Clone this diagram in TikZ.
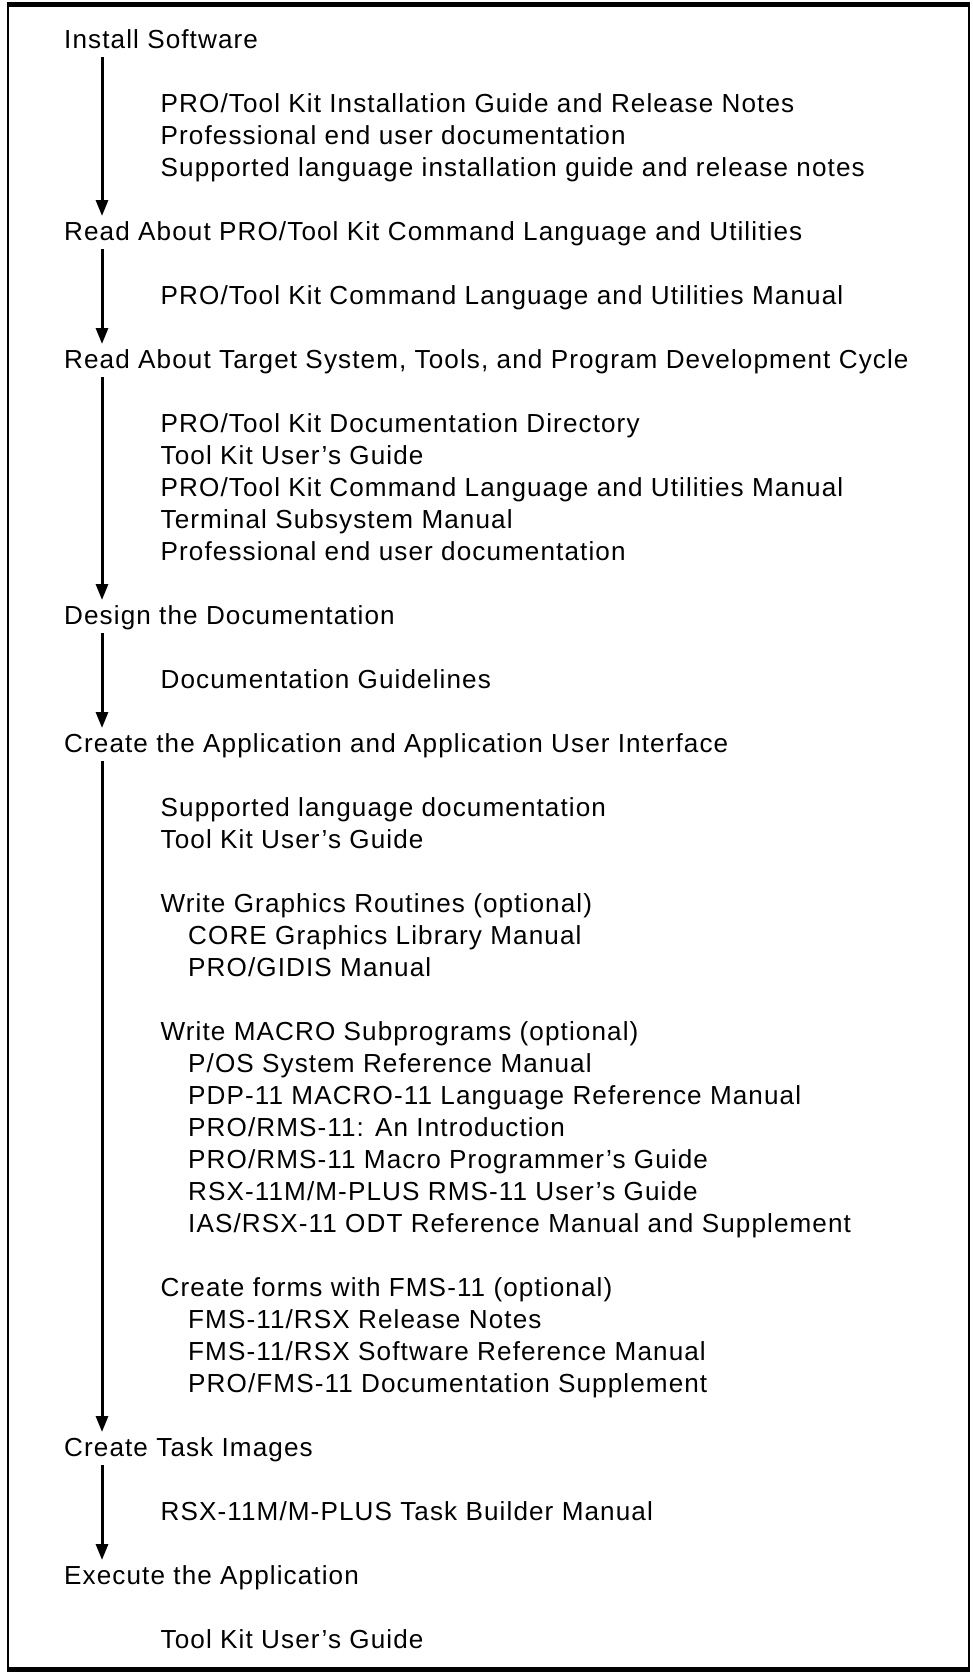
\documentclass[tikz,border=0pt]{standalone}
\usepackage{fontspec}
\setmainfont{Liberation Sans}[LetterSpace=4.2]
\usetikzlibrary{arrows.meta,calc}
\tikzset{
  head/.style={anchor=base west, inner sep=0pt, font=\fontsize{26.1}{32}\selectfont},
  item/.style={head},
  sub/.style={head},
  flow/.style={line width=3pt, -{Triangle[width=12pt,length=16pt]}},
  framethin/.style={line width=2pt},
  framethick/.style={line width=5pt}
}
\begin{document}
\begin{tikzpicture}[x=1pt,y=-1pt]
\useasboundingbox (0,0) rectangle (973,1676);
% frame
\coordinate (tl) at (8,4);
\coordinate (tr) at (969,4);
\coordinate (bl) at (8,1669);
\coordinate (br) at (969,1669);
\draw[framethick] ($(tl)+(-1,0)$) -- ($(tr)+(1,0)$);
\draw[framethick] ($(bl)+(-1,0)$) -- ($(br)+(1,0)$);
\draw[framethin] (tl) -- (bl);
\draw[framethin] (tr) -- (br);
% headings
\node[head] (h1) at (64,{48+32*0})  {Install Software};
\node[head] (h2) at (64,{48+32*6})  {Read About PRO/Tool Kit Command Language and Utilities};
\node[head] (h3) at (64,{48+32*10}) {Read About Target System, Tools, and Program Development Cycle};
\node[head] (h4) at (64,{48+32*18}) {Design the Documentation};
\node[head] (h5) at (64,{48+32*22}) {Create the Application and Application User Interface};
\node[head] (h6) at (64,{48+32*44}) {Create Task Images};
\node[head] (h7) at (64,{48+32*48}) {Execute the Application};
% items
\node[item] (a1) at (160.5,{48+32*2}) {PRO/Tool Kit Installation Guide and Release Notes};
\node[item] (a2) at (160.5,{48+32*3}) {Professional end user documentation};
\node[item] (a3) at (160.5,{48+32*4}) {Supported language installation guide and release notes};
\node[item] (b1) at (160.5,{48+32*8}) {PRO/Tool Kit Command Language and Utilities Manual};
\node[item] (c1) at (160.5,{48+32*12}) {PRO/Tool Kit Documentation Directory};
\node[item] (c2) at (160.5,{48+32*13}) {Tool Kit User’s Guide};
\node[item] (c3) at (160.5,{48+32*14}) {PRO/Tool Kit Command Language and Utilities Manual};
\node[item] (c4) at (160.5,{48+32*15}) {Terminal Subsystem Manual};
\node[item] (c5) at (160.5,{48+32*16}) {Professional end user documentation};
\node[item] (d1) at (160.5,{48+32*20}) {Documentation Guidelines};
\node[item] (e1) at (160.5,{48+32*24}) {Supported language documentation};
\node[item] (e2) at (160.5,{48+32*25}) {Tool Kit User’s Guide};
\node[item] (e3) at (160.5,{48+32*27}) {Write Graphics Routines (optional)};
\node[sub]  (e4) at (188,{48+32*28}) {CORE Graphics Library Manual};
\node[sub]  (e5) at (188,{48+32*29}) {PRO/GIDIS Manual};
\node[item] (e6) at (160.5,{48+32*31}) {Write MACRO Subprograms (optional)};
\node[sub]  (e7) at (188,{48+32*32}) {P/OS System Reference Manual};
\node[sub]  (e8) at (188,{48+32*33}) {PDP-11 MACRO-11 Language Reference Manual};
\node[sub]  (e9) at (188,{48+32*34}) {PRO/RMS-11: An Introduction};
\node[sub]  (e10) at (188,{48+32*35}) {PRO/RMS-11 Macro Programmer’s Guide};
\node[sub]  (e11) at (188,{48+32*36}) {RSX-11M/M-PLUS RMS-11 User’s Guide};
\node[sub]  (e12) at (188,{48+32*37}) {IAS/RSX-11 ODT Reference Manual and Supplement};
\node[item] (e13) at (160.5,{48+32*39}) {Create forms with FMS-11 (optional)};
\node[sub]  (e14) at (188,{48+32*40}) {FMS-11/RSX Release Notes};
\node[sub]  (e15) at (188,{48+32*41}) {FMS-11/RSX Software Reference Manual};
\node[sub]  (e16) at (188,{48+32*42}) {PRO/FMS-11 Documentation Supplement};
\node[item] (f1) at (160.5,{48+32*46}) {RSX-11M/M-PLUS Task Builder Manual};
\node[item] (g1) at (160.5,{48+32*50}) {Tool Kit User’s Guide};
% arrows
\foreach \a/\b in {h1/h2,h2/h3,h3/h4,h4/h5,h5/h6,h6/h7}{
  \draw[flow] ($(\a.base west)+(38,9)$) -- ($(\b.base west)+(38,-24)$);
}
\end{tikzpicture}
\end{document}
